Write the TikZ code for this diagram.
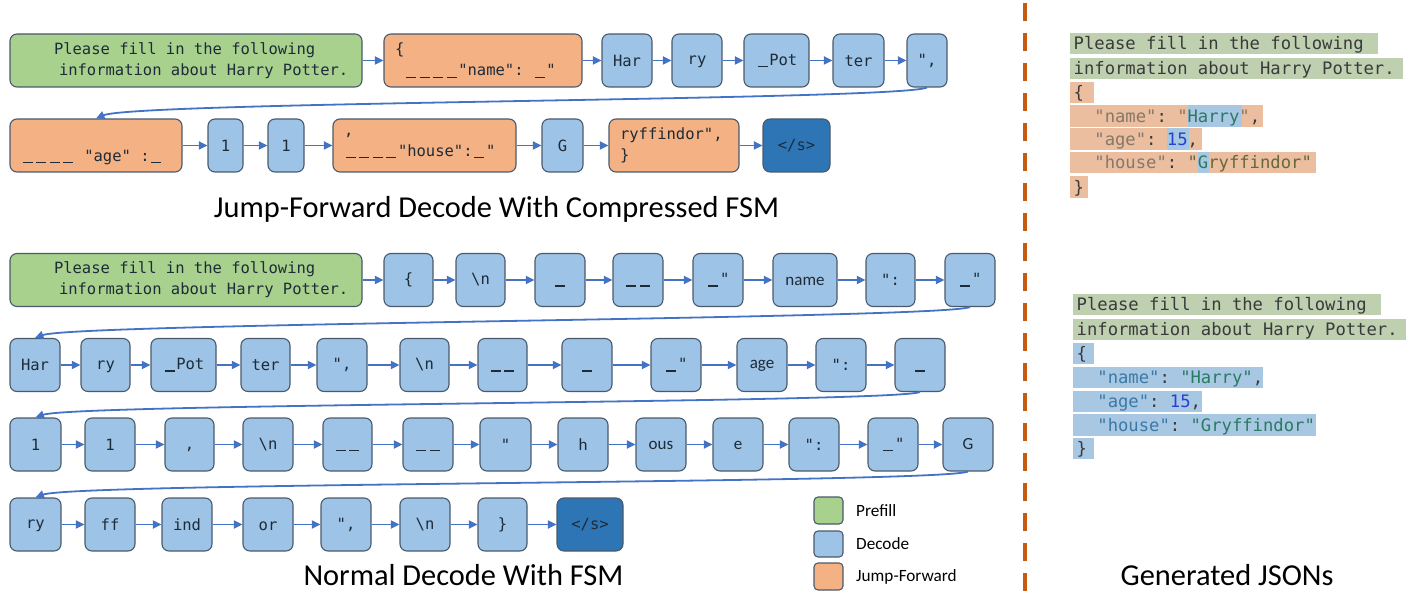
\documentclass[tikz,border=0pt]{standalone}
\usepackage{fontspec}
\setmainfont{Carlito}
\setmonofont{DejaVu Sans Mono}
\usetikzlibrary{arrows.meta}
\definecolor{pre}{HTML}{A9D18E}
\definecolor{jmp}{HTML}{F4B183}
\definecolor{dec}{HTML}{9DC3E6}
\definecolor{eos}{HTML}{2E75B6}
\definecolor{bordc}{HTML}{4A5A6C}
\definecolor{arrc}{HTML}{4472C4}
\definecolor{txtc}{HTML}{1E2B38}
\definecolor{dashc}{HTML}{C55A11}
\definecolor{hg}{HTML}{BFD0B1}
\definecolor{ho}{HTML}{EBBEA0}
\definecolor{hb}{HTML}{A8C7E3}
\definecolor{kA}{HTML}{85786A}
\definecolor{sA}{HTML}{66683A}
\definecolor{sB}{HTML}{2B7A63}
\definecolor{nB}{HTML}{2443D0}
\definecolor{kB}{HTML}{3B79A6}
\definecolor{pc}{HTML}{3A3A3A}
\newcommand\usc{\makebox[13.5pt]{\rule[-1.8pt]{10pt}{1.1pt}}}
\newcommand\spc{\hspace*{0.602em}}
\newcommand\bsl{\textbackslash}
\newcommand\tokb[6][]{\node[tok,#1,minimum width={#4-#3}] (#2) at ({(#3+#4)/2},#5) {\vphantom{H}#6};}
\begin{document}
\begin{tikzpicture}[x=1pt,y=-1pt,
 tok/.style={draw=bordc,line width=1.1pt,rounded corners=7pt,fill=dec,minimum height=53pt,inner sep=0pt,text=txtc,font=\ttfamily\fontsize{15.5}{21}\selectfont},
 sans/.style={font=\rmfamily\fontsize{17}{20}\selectfont},
 jf/.style={fill=jmp,align=left,inner xsep=11pt},
 arr/.style={draw=arrc,line width=1.8pt,-{Triangle[length=8.5pt,width=8pt]}},
 title/.style={font=\rmfamily\fontsize{30.4}{35}\selectfont,text=black,anchor=base,inner sep=0pt},
 leg/.style={font=\rmfamily\fontsize{17.2}{20}\selectfont,text=black,anchor=west,inner sep=0pt},
 js/.style={anchor=base west,inner sep=0pt,font=\ttfamily\fontsize{17.2}{21}\selectfont,text=pc},
]
\useasboundingbox (0,0) rectangle (1408,593);

% ---------- Jump-forward section ----------
\node[tok,fill=pre,minimum width=352pt,text width=352pt,align=left] (p1) at (186,60.5)
  {\hspace*{44pt}Please\spc fill\spc in\spc the\spc following\\\hspace*{49pt}information\spc about\spc Harry\spc Potter.};
\node[tok,jf,text width=176pt] (j1) at (483,60.5) {\{\\\spc\usc\usc\usc\usc"name":\spc\usc"};
\tokb{a1}{602}{652}{60.5}{Har}
\tokb{a2}{672}{722}{60.5}{ry}
\tokb{a3}{744}{809}{60.5}{\usc Pot}
\tokb{a4}{833}{884}{60.5}{ter}
\tokb{a5}{907}{947}{60.5}{",}

\node[tok,jf,text width=150pt] (j2) at (96,145.5) {\strut\\\usc\usc\usc\usc\spc"age"\spc:\usc};
\tokb{b1}{208}{243}{145.5}{1}
\tokb{b2}{268}{304}{145.5}{1}
\node[tok,jf,text width=161pt] (j3) at (424.5,145.5) {,\\\usc\usc\usc\usc"house":\usc"};
\tokb{b3}{542}{583}{145.5}{G}
\node[tok,jf,text width=108pt] (j4) at (674,145.5) {ryffindor",\\\}};
\tokb[fill=eos]{e1}{763}{830}{145.5}{</s>}

\draw[arr] (p1) -- (j1);
\draw[arr] (j1) -- (a1);
\draw[arr] (a1) -- (a2);
\draw[arr] (a2) -- (a3);
\draw[arr] (a3) -- (a4);
\draw[arr] (a4) -- (a5);
\draw[arr] (a5.south) .. controls +(-30,13) and +(40,-17) .. (j2.north);
\draw[arr] (j2) -- (b1);
\draw[arr] (b1) -- (b2);
\draw[arr] (b2) -- (j3);
\draw[arr] (j3) -- (b3);
\draw[arr] (b3) -- (j4);
\draw[arr] (j4) -- (e1);

\node[title] (t1) at (496.5,218) {Jump-Forward Decode With Compressed FSM};

% ---------- Normal decode section ----------
\node[tok,fill=pre,minimum width=352pt,text width=352pt,align=left] (p2) at (186,280)
  {\hspace*{44pt}Please\spc fill\spc in\spc the\spc following\\\hspace*{49pt}information\spc about\spc Harry\spc Potter.};
\tokb{c1}{384}{433}{280}{\{}
\tokb{c2}{456}{505}{280}{\bsl n}
\tokb{c3}{535}{585}{280}{\usc}
\tokb{c4}{613}{663}{280}{\usc\usc}
\tokb{c5}{693}{743}{280}{\usc"}
\tokb[sans]{c6}{773}{837}{280}{name}
\tokb{c7}{866}{915}{280}{":}
\tokb{c8}{945}{995}{280}{\usc"}

\tokb{d1}{10}{60}{365}{Har}
\tokb{d2}{81}{130}{365}{ry}
\tokb{d3}{151}{216}{365}{\usc Pot}
\tokb{d4}{241}{290}{365}{ter}
\tokb{d5}{317}{367}{365}{",}
\tokb{d6}{400}{449}{365}{\bsl n}
\tokb{d7}{478}{527}{365}{\usc\usc}
\tokb{d8}{562}{612}{365}{\usc}
\tokb{d9}{651}{701}{365}{\usc"}
\tokb[sans]{d10}{737}{787}{365}{age}
\tokb{d11}{816}{866}{365}{":}
\tokb{d12}{895}{945}{365}{\usc}

\tokb{f1}{10}{61}{444.5}{1}
\tokb{f2}{85}{135}{444.5}{1}
\tokb{f3}{165}{214}{444.5}{,}
\tokb{f4}{243}{293}{444.5}{\bsl n}
\tokb{f5}{323}{372}{444.5}{\usc\usc}
\tokb{f6}{403}{453}{444.5}{\usc\usc}
\tokb{f7}{480}{531}{444.5}{"}
\tokb[sans]{f8}{558}{608}{444.5}{h}
\tokb[sans]{f9}{636}{686}{444.5}{ous}
\tokb[sans]{f10}{713}{763}{444.5}{e}
\tokb{f11}{789}{839}{444.5}{":}
\tokb{f12}{868}{918}{444.5}{\usc"}
\tokb[sans]{f13}{943}{993}{444.5}{G}

\tokb{g1}{10}{61}{524.5}{ry}
\tokb{g2}{85}{135}{524.5}{ff}
\tokb{g3}{162}{212}{524.5}{ind}
\tokb{g4}{243}{293}{524.5}{or}
\tokb{g5}{321}{371}{524.5}{",}
\tokb{g6}{400}{450}{524.5}{\bsl n}
\tokb{g7}{478}{527}{524.5}{\}}
\tokb[fill=eos]{g8}{557}{623}{524.5}{</s>}

\draw[arr] (p2) -- (c1);
\foreach \a/\b in {c1/c2,c2/c3,c3/c4,c4/c5,c5/c6,c6/c7,c7/c8,
  d1/d2,d2/d3,d3/d4,d4/d5,d5/d6,d6/d7,d7/d8,d8/d9,d9/d10,d10/d11,d11/d12,
  f1/f2,f2/f3,f3/f4,f4/f5,f5/f6,f6/f7,f7/f8,f8/f9,f9/f10,f10/f11,f11/f12,f12/f13,
  g1/g2,g2/g3,g3/g4,g4/g5,g5/g6,g6/g7,g7/g8}
  {\draw[arr] (\a) -- (\b);}
\draw[arr] (c8.south) .. controls +(-30,12) and +(40,-15) .. (d1.north);
\draw[arr] (d12.south) .. controls +(-30,11) and +(40,-14) .. (f1.north);
\draw[arr] (f13.south) .. controls +(-30,12) and +(40,-15) .. (g1.north);

\node[title] (t2) at (463.5,585) {Normal Decode With FSM};

% legend
\node[tok,fill=pre,minimum width=29pt,minimum height=27pt,rounded corners=4pt] (lp) at (828.5,510.5) {};
\node[tok,fill=dec,minimum width=29pt,minimum height=26pt,rounded corners=4pt] (ld) at (828.5,544) {};
\node[tok,fill=jmp,minimum width=29pt,minimum height=27pt,rounded corners=4pt] (lj) at (828.5,576.5) {};
\node[leg] (lpt) at (856,510.5) {Prefill};
\node[leg] (ldt) at (856,544) {Decode};
\node[leg] (ljt) at (856,576.5) {Jump-Forward};

% divider
\coordinate (dtop) at (1025,3);
\coordinate (dbot) at (1025,593);
\draw[dashc,line width=3.5pt,dash pattern=on 18pt off 12pt] (dtop) -- (dbot);

% ---------- Generated JSON panel 1 ----------
\fill[hg] (1070,33) rectangle (1378,54);
\fill[hg] (1070,58) rectangle (1403,79);
\fill[ho] (1070,82) rectangle (1094,103);
\fill[ho] (1070,105) rectangle (1263,127);
\fill[hb] (1188,105) rectangle (1242,127);
\fill[ho] (1070,128) rectangle (1202,150);
\fill[hb] (1167,128) rectangle (1189,150);
\fill[ho] (1070,152) rectangle (1316,173);
\fill[hb] (1198,152) rectangle (1209,173);
\fill[ho] (1070,176) rectangle (1088,198);
\node[js] (q1) at (1073.5,49.5) {Please fill in the following};
\node[js] (q2) at (1073.5,74.5) {information about Harry Potter.};
\node[js] (q3) at (1073.5,98.5) {\{};
\node[js] (q4) at (1073.5,122.5) {\hspace*{1.204em}\textcolor{kA}{"name"}:~\textcolor{kA}{"}\textcolor{sB}{Harry}\textcolor{kA}{"},};
\node[js] (q5) at (1073.5,145.5) {\hspace*{1.204em}\textcolor{kA}{"age"}:~\textcolor{nB}{15},};
\node[js] (q6) at (1073.5,168.5) {\hspace*{1.204em}\textcolor{kA}{"house"}:~\textcolor{sA}{"}\textcolor{sB}{G}\textcolor{sA}{ryffindor"}};
\node[js] (q7) at (1073.5,193.5) {\}};

% ---------- Generated JSON panel 2 ----------
\fill[hg] (1073,294) rectangle (1381,315);
\fill[hg] (1073,319) rectangle (1406,340);
\fill[hb] (1073,343) rectangle (1094,364);
\fill[hb] (1073,367) rectangle (1263,388);
\fill[hb] (1073,391) rectangle (1202,412);
\fill[hb] (1073,414) rectangle (1316,436);
\fill[hb] (1073,438) rectangle (1094,459);
\node[js] (r1) at (1076.5,310.5) {Please fill in the following};
\node[js] (r2) at (1076.5,335.5) {information about Harry Potter.};
\node[js] (r3) at (1076.5,359.5) {\{};
\node[js] (r4) at (1076.5,383.5) {\hspace*{1.204em}\textcolor{kB}{"name"}:~\textcolor{sB}{"Harry"},};
\node[js] (r5) at (1076.5,407.5) {\hspace*{1.204em}\textcolor{kB}{"age"}:~\textcolor{nB}{15},};
\node[js] (r6) at (1076.5,431.5) {\hspace*{1.204em}\textcolor{kB}{"house"}:~\textcolor{sB}{"Gryffindor"}};
\node[js] (r7) at (1076.5,454.5) {\}};

\node[title] (t3) at (1227,585) {Generated JSONs};
\end{tikzpicture}
\end{document}
